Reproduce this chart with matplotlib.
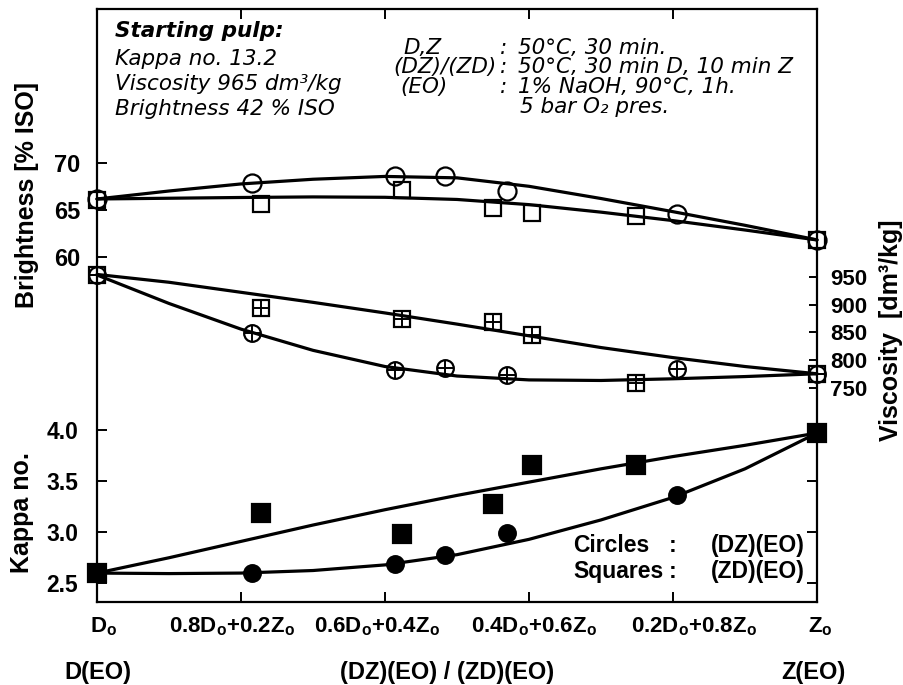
import matplotlib
matplotlib.use('Agg')
import matplotlib.pyplot as plt
from matplotlib.transforms import ScaledTranslation

plt.rcParams['font.family'] = ['Liberation Sans', 'DejaVu Sans']
plt.rcParams['mathtext.fontset'] = 'custom'
plt.rcParams['mathtext.rm'] = 'Liberation Sans'
plt.rcParams['mathtext.bf'] = 'Liberation Sans:bold'
plt.rcParams['mathtext.it'] = 'Liberation Sans:italic'

# share of Z in the first stage (0 = D only, 1 = Z only)
x_circ = [0.0, 0.215, 0.414, 0.483, 0.569, 0.805, 1.0]   # (DZ)(EO)
x_sq = [0.0, 0.228, 0.423, 0.550, 0.604, 0.748, 1.0]     # (ZD)(EO)

bright_circ = [66.2, 67.9, 68.6, 68.6, 67.0, 64.6, 61.8]
bright_sq = [66.1, 65.7, 67.2, 65.2, 64.7, 64.4, 61.8]
visc_circ = [953, 849, 783, 786, 774, 784, 776]
visc_sq = [953, 893, 875, 869, 846, 759, 776]
kappa_circ = [2.60, 2.60, 2.69, 2.78, 2.99, 3.36, 3.97]
kappa_sq = [2.60, 3.19, 2.98, 3.28, 3.66, 3.66, 3.97]

# hand-drawn trend lines, every 0.1
x_line = [0.0, 0.1, 0.2, 0.3, 0.4, 0.5, 0.6, 0.7, 0.8, 0.9, 1.0]
bright_circ_line = [66.2, 67.05, 67.8, 68.3, 68.6, 68.45, 67.55, 66.25, 64.85, 63.4, 61.85]
bright_sq_line = [66.2, 66.28, 66.36, 66.42, 66.38, 66.15, 65.6, 64.8, 63.9, 62.9, 61.84]
visc_circ_line = [953, 902, 856, 818, 789, 772, 765, 764, 767, 771, 776]
visc_sq_line = [954, 940, 922, 904, 885, 865, 844, 823, 805, 789, 776]
kappa_circ_line = [2.60, 2.595, 2.60, 2.625, 2.68, 2.78, 2.93, 3.12, 3.34, 3.62, 3.97]
kappa_sq_line = [2.60, 2.75, 2.91, 3.07, 3.22, 3.36, 3.49, 3.62, 3.74, 3.85, 3.97]

x_ticks = [0.0, 0.2, 0.4, 0.6, 0.8, 1.0]
x_labels = [r'D$_\mathbf{o}$', r'0.8D$_\mathbf{o}$+0.2Z$_\mathbf{o}$',
            r'0.6D$_\mathbf{o}$+0.4Z$_\mathbf{o}$', r'0.4D$_\mathbf{o}$+0.6Z$_\mathbf{o}$',
            r'0.2D$_\mathbf{o}$+0.8Z$_\mathbf{o}$', r'Z$_\mathbf{o}$']
bright_ticks = [60, 65, 70]
kappa_ticks = [2.5, 3.0, 3.5, 4.0]
visc_ticks = [750, 800, 850, 900, 950]

W, H = 904, 685


def fx(px):
    return px / W


def fy(py):
    return 1 - py / H


def trend(ax, xs, ys):
    ax.plot(xs, ys, color='k', lw=2.3, zorder=2, clip_on=False,
            solid_capstyle='round', solid_joinstyle='round')


def pts(ax, xs, ys, marker, ms, filled=False, cross=False):
    ax.plot(xs, ys, ls='none', marker=marker, ms=ms, mec='k', mew=1.6,
            mfc='k' if filled else 'none', zorder=3, clip_on=False)
    if cross:
        ax.plot(xs, ys, ls='none', marker='+', ms=ms, mec='k', mew=1.4,
                zorder=3, clip_on=False)


fig = plt.figure(figsize=(9.04, 6.85), dpi=100)
pos = [fx(97), fy(602), fx(817) - fx(97), (602 - 9) / H]
ax = fig.add_axes(pos)
axk = fig.add_axes(pos, sharex=ax)
axv = fig.add_axes(pos, sharex=ax)
for a in (axk, axv):
    a.patch.set_visible(False)
    for s in a.spines.values():
        s.set_visible(False)
    a.tick_params(axis='x', which='both', bottom=False, top=False, labelbottom=False)

ax.set_xlim(0, 1)
ax.set_ylim(23.33, 86.41)
axk.set_ylim(2.317, 8.119)
axv.set_ylim(367.0, 1429.7)

for s in ax.spines.values():
    s.set_linewidth(1.6)

# brightness
trend(ax, x_line, bright_circ_line)
trend(ax, x_line, bright_sq_line)
pts(ax, x_circ, bright_circ, 'o', 13)
pts(ax, x_sq, bright_sq, 's', 12)

# viscosity
trend(axv, x_line, visc_circ_line)
trend(axv, x_line, visc_sq_line)
pts(axv, x_circ, visc_circ, 'o', 12, cross=True)
pts(axv, x_sq, visc_sq, 's', 11.5, cross=True)

# kappa
trend(axk, x_line, kappa_circ_line)
trend(axk, x_line, kappa_sq_line)
pts(axk, x_circ, kappa_circ, 'o', 12, filled=True)
pts(axk, x_sq, kappa_sq, 's', 13, filled=True)

# ticks
ax.set_xticks(x_ticks)
ax.set_xticklabels(x_labels)
ax.tick_params(axis='x', direction='in', length=7, width=1.4, top=True,
               labelsize=16, pad=10)
x_shift = [7, -9, -8, 5, 21, 3]
for lab, dx in zip(ax.get_xticklabels(), x_shift):
    lab.set_fontweight('bold')
    lab.set_transform(lab.get_transform() + ScaledTranslation(dx / 100, 0, fig.dpi_scale_trans))

ax.set_yticks(bright_ticks)
ax.set_yticklabels([str(t) for t in bright_ticks], fontweight='bold')
ax.tick_params(axis='y', direction='in', length=7, width=1.4, labelsize=17, pad=12)

axk.set_yticks(kappa_ticks)
axk.set_yticklabels([f'{t:.1f}' for t in kappa_ticks], fontweight='bold')
axk.tick_params(axis='y', direction='in', length=7, width=1.4, labelsize=16.5, pad=13.5,
                right=True, labelright=False)

axv.yaxis.tick_right()
axv.set_yticks(visc_ticks)
axv.set_yticklabels([str(t) for t in visc_ticks], fontweight='bold')
axv.tick_params(axis='y', direction='in', length=6, width=1.4, labelsize=16, pad=9.5)

# axis titles
fig.text(fx(27), fy(195), 'Brightness [% ISO]', rotation=90, ha='center', va='center',
         fontsize=18, fontweight='bold')
fig.text(fx(22), fy(513), 'Kappa no.', rotation=90, ha='center', va='center',
         fontsize=18, fontweight='bold')
fig.text(fx(891), fy(330), 'Viscosity  [dm³/kg]', rotation=90, ha='center', va='center',
         fontsize=18, fontweight='bold')

fig.text(fx(97.5), fy(673), 'D(EO)', ha='center', va='center', fontsize=17, fontweight='bold')
fig.text(fx(447), fy(673), '(DZ)(EO) / (ZD)(EO)', ha='center', va='center',
         fontsize=17, fontweight='bold')
fig.text(fx(813), fy(673), 'Z(EO)', ha='center', va='center', fontsize=17, fontweight='bold')

# starting pulp and conditions
ital = dict(family='DejaVu Sans', style='italic', fontsize=15.5, va='baseline')
fig.text(fx(115), fy(36.7), 'Starting pulp:', fontweight='bold', **ital)
fig.text(fx(115), fy(65), 'Kappa no. 13.2', **ital)
fig.text(fx(115), fy(90), 'Viscosity 965 dm³/kg', **ital)
fig.text(fx(115), fy(115), 'Brightness 42 % ISO', **ital)

fig.text(fx(403), fy(54), 'D,Z', **ital)
fig.text(fx(500), fy(54), ':', **ital)
fig.text(fx(518), fy(54), '50°C, 30 min.', **ital)
fig.text(fx(393), fy(73), '(DZ)/(ZD)', **ital)
fig.text(fx(500), fy(73), ':', **ital)
fig.text(fx(518), fy(73), '50°C, 30 min D, 10 min Z', **ital)
fig.text(fx(400), fy(93), '(EO)', **ital)
fig.text(fx(500), fy(93), ':', **ital)
fig.text(fx(518), fy(93), '1% NaOH, 90°C, 1h.', **ital)
fig.text(fx(520), fy(113), '5 bar O₂ pres.', **ital)

# key
key = dict(fontsize=16.5, fontweight='bold', va='baseline')
fig.text(fx(573), fy(552), 'Circles', **key)
fig.text(fx(669), fy(552), ':', **key)
fig.text(fx(805), fy(552), '(DZ)(EO)', ha='right', **key)
fig.text(fx(573), fy(578), 'Squares', **key)
fig.text(fx(669), fy(578), ':', **key)
fig.text(fx(805), fy(578), '(ZD)(EO)', ha='right', **key)

fig.savefig('out.png', dpi=100)
